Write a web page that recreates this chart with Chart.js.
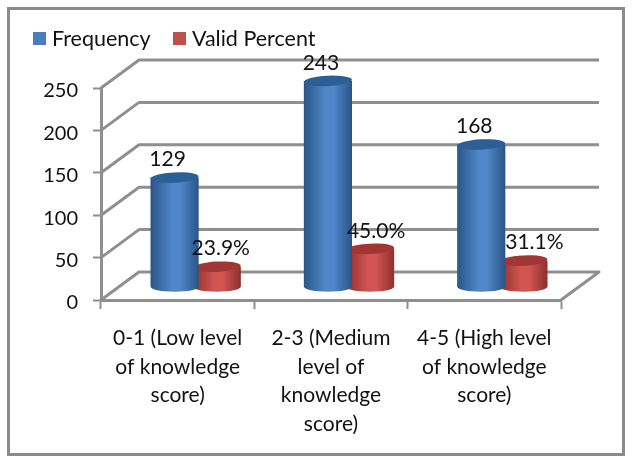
<!DOCTYPE html>
<html>
<head>
<meta charset="utf-8">
<style>html,body{margin:0;padding:0;background:#fff}#w{width:632px;height:464px}</style>
<script src="https://cdn.jsdelivr.net/npm/chart.js@4"></script>
</head>
<body>
<div id="w"><canvas id="c" width="632" height="464"></canvas></div>
<script>
const categories = [
  ["0-1 (Low level", "of knowledge", "score)"],
  ["2-3 (Medium", "level of", "knowledge", "score)"],
  ["4-5 (High level", "of knowledge", "score)"]
];
const frequency = [129, 243, 168];
const validPercent = [23.9, 45.0, 31.1];
const frequencyLabels = ["129", "243", "168"];
const validPercentLabels = ["23.9%", "45.0%", "31.1%"];

const FONT = "Lato, Carlito, sans-serif";
const GRID = "#8f8f8f";
const DEPTH = {x: 38, y: -28};
const BAR_SHIFT = {x: 18, y: -13};
const RY = 5.2;
const looks = [
  {edge: "#2b5587", mid: "#4f87c9", top: "#2d5f96", labels: frequencyLabels, shift: [-7, -7, -7]},
  {edge: "#8c302e", mid: "#d25552", top: "#a23634", labels: validPercentLabels, shift: [4, 6, 11]}
];

function swatch(color) {
  const s = document.createElement("canvas");
  s.width = 13; s.height = 13;
  const x = s.getContext("2d");
  x.fillStyle = color;
  x.fillRect(0, 0, 13, 13);
  return s;
}

const scene = {
  id: "scene",
  beforeLayout(chart) {
    const lg = chart.legend;
    if (!lg._tall) {
      const fit = lg.fit;
      lg.fit = function () { fit.call(this); this.height = 87; };
      lg._tall = true;
    }
  },
  beforeDraw(chart) {
    const c = chart.ctx;
    c.save();
    c.fillStyle = "#fff";
    c.fillRect(0, 0, chart.width, chart.height);
    c.strokeStyle = "#8a8a8a";
    c.lineWidth = 3;
    c.strokeRect(8.5, 8.5, 615, 446);
    c.restore();
  },
  beforeDatasetsDraw(chart) {
    const c = chart.ctx, y = chart.scales.y, a = chart.chartArea;
    c.save();
    c.strokeStyle = GRID;
    c.lineWidth = 3;
    c.lineJoin = "round";
    y.ticks.forEach(t => {
      const py = y.getPixelForValue(t.value);
      c.beginPath();
      c.moveTo(a.left, py);
      c.lineTo(a.left + DEPTH.x, py + DEPTH.y);
      c.lineTo(a.right + DEPTH.x, py + DEPTH.y);
      if (t.value === 0) c.lineTo(a.right, py);
      c.stroke();
    });
    c.restore();
  },
  beforeDatasetDraw(chart, args) {
    const c = chart.ctx, look = looks[args.index];
    chart.getDatasetMeta(args.index).data.forEach(el => {
      const p = el.getProps(["x", "y", "base", "width"], true);
      const cx = p.x + BAR_SHIFT.x, top = p.y + BAR_SHIFT.y, bot = p.base + BAR_SHIFT.y;
      const rx = p.width / 2 + 3;
      const g = c.createLinearGradient(cx - rx, 0, cx + rx, 0);
      g.addColorStop(0, look.edge);
      g.addColorStop(0.45, look.mid);
      g.addColorStop(0.62, look.mid);
      g.addColorStop(1, look.edge);
      c.save();
      c.fillStyle = g;
      c.beginPath();
      c.moveTo(cx - rx, top);
      c.lineTo(cx - rx, bot);
      c.ellipse(cx, bot, rx, RY, 0, Math.PI, 0, true);
      c.lineTo(cx + rx, top);
      c.closePath();
      c.fill();
      c.fillStyle = look.top;
      c.beginPath();
      c.ellipse(cx, top, rx, RY, -0.05, 0, Math.PI * 2);
      c.fill();
      c.restore();
    });
    return false;
  },
  afterDatasetsDraw(chart) {
    const c = chart.ctx;
    c.save();
    c.font = "21px " + FONT;
    c.fillStyle = "#111";
    c.textAlign = "center";
    c.textBaseline = "middle";
    looks.forEach((look, i) => {
      chart.getDatasetMeta(i).data.forEach((el, j) => {
        const p = el.getProps(["x", "y"], true);
        c.fillText(look.labels[j], p.x + BAR_SHIFT.x + look.shift[j], p.y + BAR_SHIFT.y - 18);
      });
    });
    c.restore();
  }
};

new Chart(document.getElementById("c"), {
  type: "bar",
  data: {
    labels: categories,
    datasets: [
      {label: "Frequency", data: frequency, backgroundColor: "#4a7ebb", pointStyle: swatch("#4a7ebb")},
      {label: "Valid Percent", data: validPercent, backgroundColor: "#c0504d", pointStyle: swatch("#c0504d")}
    ]
  },
  plugins: [scene],
  options: {
    responsive: false,
    animation: false,
    categoryPercentage: 0.55,
    barPercentage: 1,
    layout: {padding: {left: 10.75, right: 71, top: 1, bottom: 0}},
    plugins: {
      tooltip: {enabled: false},
      legend: {
        position: "top",
        align: "start",
        labels: {
          usePointStyle: true,
          boxWidth: 3.5, boxHeight: 13, padding: 27,
          color: "#111",
          font: {family: FONT, size: 21.5}
        }
      }
    },
    scales: {
      x: {
        offset: true,
        afterFit(s) { s.height = 164; },
        border: {display: true, color: GRID, width: 3},
        grid: {display: true, drawOnChartArea: false, drawTicks: true, tickLength: 9, tickWidth: 2, tickColor: GRID, offset: true},
        ticks: {
          autoSkip: false, maxRotation: 0, minRotation: 0, padding: 15,
          color: "#111",
          font: {family: FONT, size: 21, lineHeight: 1.36}
        }
      },
      y: {
        min: 0, max: 250,
        afterFit(s) { s.width = 90.25; },
        border: {display: true, color: GRID, width: 3},
        grid: {display: true, drawOnChartArea: false, drawTicks: true, tickLength: 8, tickWidth: 2, tickColor: GRID},
        ticks: {
          stepSize: 50, padding: 15,
          color: "#111",
          callback: v => ["", String(v)],
          font: {family: FONT, size: 20, lineHeight: 0.3}
        }
      }
    }
  }
});
</script>
</body>
</html>
